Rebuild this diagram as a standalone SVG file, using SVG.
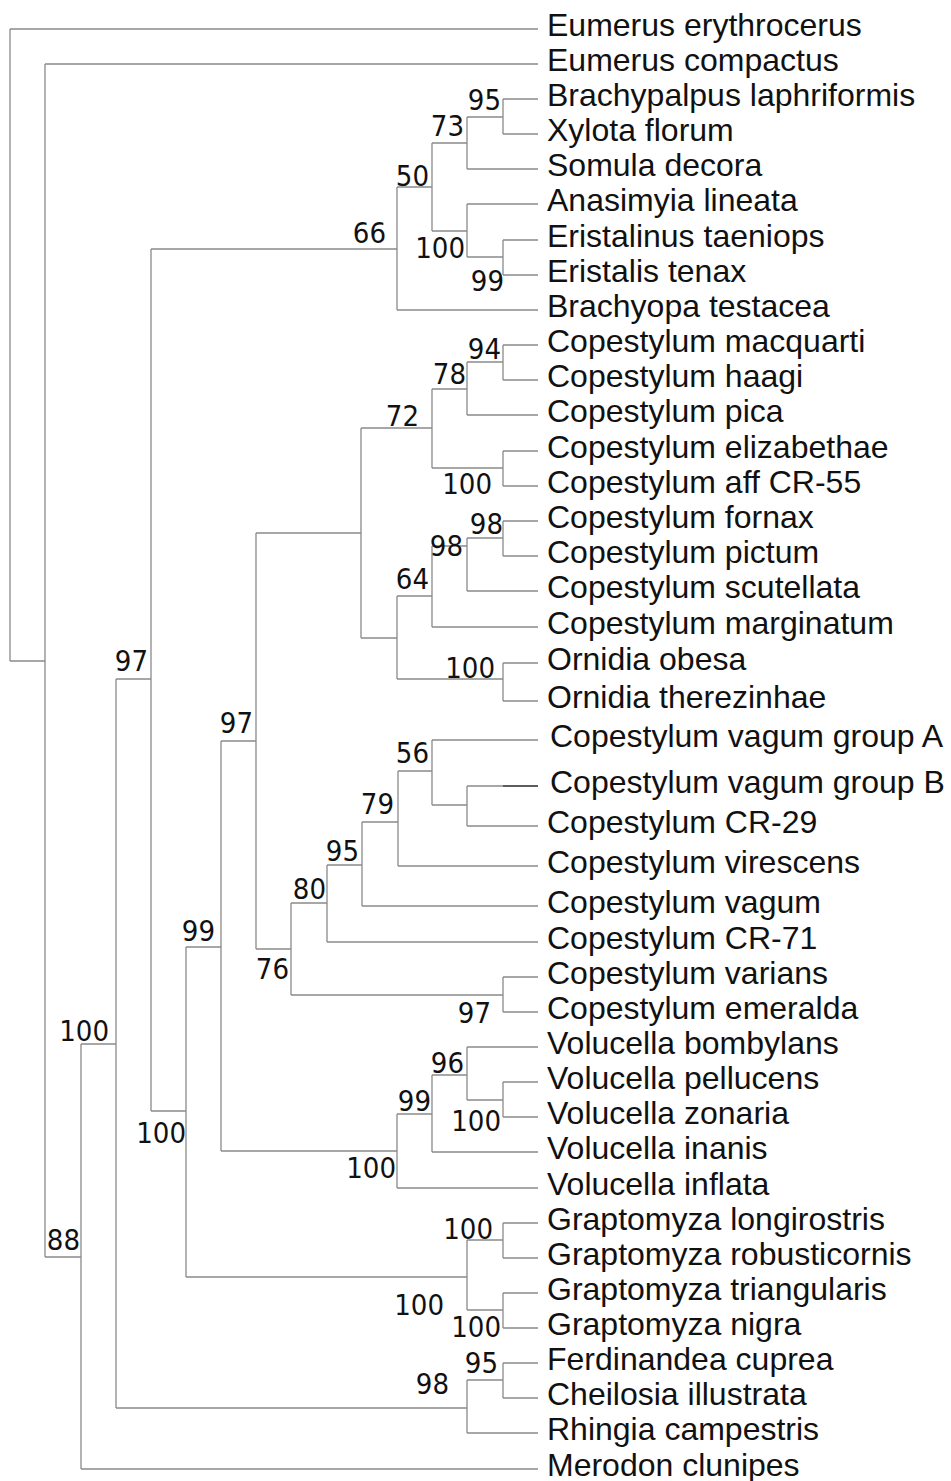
<svg xmlns="http://www.w3.org/2000/svg" width="951" height="1481" viewBox="0 0 951 1481">
<style>
.e{stroke:#8a8a8a;stroke-width:1.3;fill:none}
.d{stroke:#444;stroke-width:1.3;fill:none}
.t{font-family:"Liberation Sans",Arial,sans-serif;font-size:32px;fill:#111}
.s{font-family:"DejaVu Sans Condensed","DejaVu Sans",sans-serif;font-stretch:condensed;font-size:29px;fill:#111;text-anchor:end}
</style>
<rect width="951" height="1481" fill="#fff"/>
<g id="connectors">
<path class="e" d="M10 29H538M45 64H538M503 99H538M503 134H538M467 169H538M467 204H538M503 240H538M503 275H538M397 310H538M503 345H538M503 380H538M467 415H538M503 451H538M503 486H538M503 521H538M503 556H538M467 591H538M432 627H538M503 663H538M503 701H538M432 740H538M467 786H538M467 826H538M398 866H538M362 906H538M327 942H538M503 977H538M503 1012H538M467 1047H538M503 1082H538M503 1117H538M432 1152H538M397 1188H538M503 1223H538M503 1258H538M503 1293H538M503 1328H538M503 1363H538M503 1398H538M467 1433H538M81 1469H538"/>
<path class="e" d="M10 661H45M45 1257H81M81 1044H116M116 679H151M116 1408H467M151 249H397M151 1111H186M397 187H432M432 143H467M467 117H503M432 231H467M467 257H503M186 947H221M186 1277H467M221 741H256M221 1151H397M256 533H361M256 949H291M361 428H432M361 638H397M432 389H467M467 362H503M432 468H503M397 596H432M397 679H503M432 546H467M467 538H503M291 903H327M291 995H503M327 865H362M362 822H398M398 771H432M432 805H467M397 1114H432M432 1075H467M467 1100H503M467 1240H503M467 1310H503M467 1380H503"/>
<path class="e" d="M10 29V661M45 64V1257M81 1044V1469M116 679V1408M151 249V1111M186 947V1277M221 741V1151M256 533V949M291 903V995M327 865V942M362 822V906M398 771V866M432 740V805M467 786V826M503 977V1012M361 428V638M432 389V468M467 362V415M503 345V380M503 451V486M397 596V679M432 546V627M467 538V591M503 521V556M503 663V701M397 187V310M432 143V231M467 117V169M503 99V134M467 204V257M503 240V275M397 1114V1188M432 1075V1152M467 1047V1100M503 1082V1117M467 1240V1310M503 1223V1258M503 1293V1328M467 1380V1433M503 1363V1398"/>
<path class="d" d="M503 786H538"/>
</g>
<g id="leaf-01"><text class="t" x="547" y="36">Eumerus erythrocerus</text></g>
<g id="leaf-02"><text class="t" x="547" y="71">Eumerus compactus</text></g>
<g id="leaf-03"><text class="t" x="547" y="106">Brachypalpus laphriformis</text></g>
<g id="leaf-04"><text class="t" x="547" y="141">Xylota florum</text></g>
<g id="leaf-05"><text class="t" x="547" y="176">Somula decora</text></g>
<g id="leaf-06"><text class="t" x="547" y="211">Anasimyia lineata</text></g>
<g id="leaf-07"><text class="t" x="547" y="247">Eristalinus taeniops</text></g>
<g id="leaf-08"><text class="t" x="547" y="282">Eristalis tenax</text></g>
<g id="leaf-09"><text class="t" x="547" y="317">Brachyopa testacea</text></g>
<g id="leaf-10"><text class="t" x="547" y="352">Copestylum macquarti</text></g>
<g id="leaf-11"><text class="t" x="547" y="387">Copestylum haagi</text></g>
<g id="leaf-12"><text class="t" x="547" y="422">Copestylum pica</text></g>
<g id="leaf-13"><text class="t" x="547" y="458">Copestylum elizabethae</text></g>
<g id="leaf-14"><text class="t" x="547" y="493">Copestylum aff CR-55</text></g>
<g id="leaf-15"><text class="t" x="547" y="528">Copestylum fornax</text></g>
<g id="leaf-16"><text class="t" x="547" y="563">Copestylum pictum</text></g>
<g id="leaf-17"><text class="t" x="547" y="598">Copestylum scutellata</text></g>
<g id="leaf-18"><text class="t" x="547" y="634">Copestylum marginatum</text></g>
<g id="leaf-19"><text class="t" x="547" y="670">Ornidia obesa</text></g>
<g id="leaf-20"><text class="t" x="547" y="708">Ornidia therezinhae</text></g>
<g id="leaf-21"><text class="t" x="550" y="747">Copestylum vagum group A</text></g>
<g id="leaf-22"><text class="t" x="550" y="793">Copestylum vagum group B</text></g>
<g id="leaf-23"><text class="t" x="547" y="833">Copestylum CR-29</text></g>
<g id="leaf-24"><text class="t" x="547" y="873">Copestylum virescens</text></g>
<g id="leaf-25"><text class="t" x="547" y="913">Copestylum vagum</text></g>
<g id="leaf-26"><text class="t" x="547" y="949">Copestylum CR-71</text></g>
<g id="leaf-27"><text class="t" x="547" y="984">Copestylum varians</text></g>
<g id="leaf-28"><text class="t" x="547" y="1019">Copestylum emeralda</text></g>
<g id="leaf-29"><text class="t" x="547" y="1054">Volucella bombylans</text></g>
<g id="leaf-30"><text class="t" x="547" y="1089">Volucella pellucens</text></g>
<g id="leaf-31"><text class="t" x="547" y="1124">Volucella zonaria</text></g>
<g id="leaf-32"><text class="t" x="547" y="1159">Volucella inanis</text></g>
<g id="leaf-33"><text class="t" x="547" y="1195">Volucella inflata</text></g>
<g id="leaf-34"><text class="t" x="547" y="1230">Graptomyza longirostris</text></g>
<g id="leaf-35"><text class="t" x="547" y="1265">Graptomyza robusticornis</text></g>
<g id="leaf-36"><text class="t" x="547" y="1300">Graptomyza triangularis</text></g>
<g id="leaf-37"><text class="t" x="547" y="1335">Graptomyza nigra</text></g>
<g id="leaf-38"><text class="t" x="547" y="1370">Ferdinandea cuprea</text></g>
<g id="leaf-39"><text class="t" x="547" y="1405">Cheilosia illustrata</text></g>
<g id="leaf-40"><text class="t" x="547" y="1440">Rhingia campestris</text></g>
<g id="leaf-41"><text class="t" x="547" y="1476">Merodon clunipes</text></g>
<g id="support-95a"><text class="s" x="501" y="110">95</text></g>
<g id="support-73"><text class="s" x="464" y="136">73</text></g>
<g id="support-50"><text class="s" x="429" y="186">50</text></g>
<g id="support-66"><text class="s" x="386" y="243">66</text></g>
<g id="support-100a"><text class="s" x="465" y="258">100</text></g>
<g id="support-99a"><text class="s" x="504" y="291">99</text></g>
<g id="support-94"><text class="s" x="501" y="359">94</text></g>
<g id="support-78"><text class="s" x="466" y="384">78</text></g>
<g id="support-72"><text class="s" x="419" y="426">72</text></g>
<g id="support-100b"><text class="s" x="492" y="494">100</text></g>
<g id="support-98a"><text class="s" x="503" y="534">98</text></g>
<g id="support-98b"><text class="s" x="463" y="556">98</text></g>
<g id="support-64"><text class="s" x="429" y="589">64</text></g>
<g id="support-100c"><text class="s" x="495" y="678">100</text></g>
<g id="support-97a"><text class="s" x="148" y="671">97</text></g>
<g id="support-97b"><text class="s" x="253" y="733">97</text></g>
<g id="support-56"><text class="s" x="429" y="763">56</text></g>
<g id="support-79"><text class="s" x="394" y="814">79</text></g>
<g id="support-95b"><text class="s" x="359" y="861">95</text></g>
<g id="support-80"><text class="s" x="326" y="899">80</text></g>
<g id="support-99b"><text class="s" x="215" y="941">99</text></g>
<g id="support-76"><text class="s" x="289" y="979">76</text></g>
<g id="support-97c"><text class="s" x="491" y="1023">97</text></g>
<g id="support-100d"><text class="s" x="109" y="1041">100</text></g>
<g id="support-96"><text class="s" x="464" y="1073">96</text></g>
<g id="support-99c"><text class="s" x="431" y="1111">99</text></g>
<g id="support-100e"><text class="s" x="501" y="1131">100</text></g>
<g id="support-100f"><text class="s" x="186" y="1143">100</text></g>
<g id="support-100g"><text class="s" x="396" y="1178">100</text></g>
<g id="support-100h"><text class="s" x="493" y="1239">100</text></g>
<g id="support-88"><text class="s" x="80" y="1250">88</text></g>
<g id="support-100i"><text class="s" x="444" y="1315">100</text></g>
<g id="support-100j"><text class="s" x="501" y="1337">100</text></g>
<g id="support-95c"><text class="s" x="498" y="1373">95</text></g>
<g id="support-98c"><text class="s" x="449" y="1394">98</text></g>
</svg>
